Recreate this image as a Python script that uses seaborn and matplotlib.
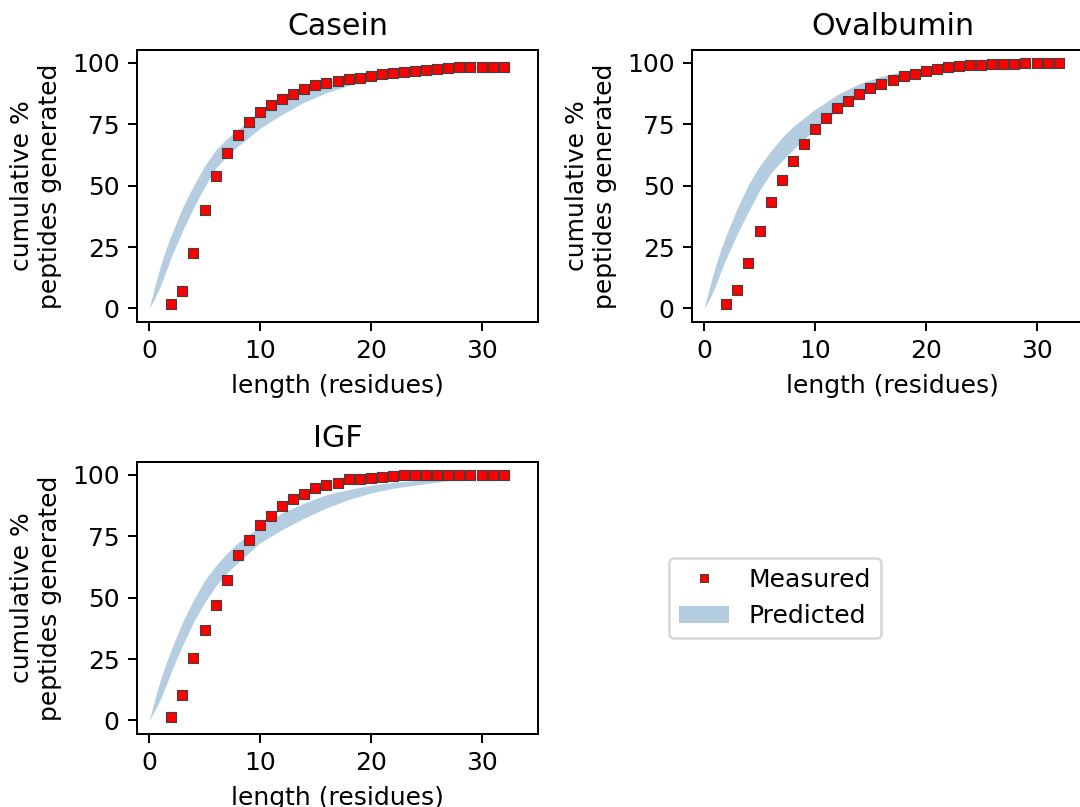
import numpy as np
import pandas as pd
import matplotlib
matplotlib.use("Agg")
import matplotlib.pyplot as plt
import seaborn as sns
from matplotlib.patches import Patch
from matplotlib.lines import Line2D

# ---- data ----
proteins = ["Casein", "Ovalbumin", "IGF"]
lengths = list(range(2, 33))

casein_measured = [1.8, 7.3, 22.7, 40.2, 54.1, 63.4, 70.8, 75.7, 79.9, 82.8, 85.3, 87.4,
                   89.3, 90.8, 91.7, 92.5, 93.4, 93.9, 94.7, 95.3, 95.9, 96.3, 96.7, 97.0,
                   97.6, 97.8, 98.2, 98.2, 98.2, 98.2, 98.2]
ovalbumin_measured = [2.0, 7.4, 18.4, 31.7, 43.2, 52.1, 59.9, 67.1, 72.9, 77.4, 81.7, 84.4,
                      87.3, 89.9, 91.5, 92.8, 94.6, 95.5, 96.5, 97.3, 98.4, 98.8, 98.9, 99.2,
                      99.3, 99.6, 99.7, 99.8, 100.0, 100.0, 100.0]
igf_measured = [1.5, 10.5, 25.4, 36.9, 47.2, 57.3, 67.2, 73.6, 79.5, 83.4, 87.2, 90.0,
                92.3, 94.5, 95.9, 96.8, 98.1, 98.4, 98.8, 99.2, 99.6, 99.9, 100.0, 100.0,
                100.0, 100.0, 100.0, 100.0, 100.0, 100.0, 100.0]

band_x = [0, 0.5, 1, 1.5, 2, 3, 4, 5, 6, 7, 8, 10, 12, 14, 16, 18, 20, 22, 25, 28, 32]
casein_upper = [0, 9, 17, 24, 30, 41, 50, 58, 64.5, 69, 72.8, 79.8, 85, 89, 92.3, 94.5, 96, 96.8, 97.6, 98.1, 98.5]
casein_lower = [0, 4, 9, 15, 21, 31.5, 41, 49.5, 57, 62, 66, 73.3, 79, 84, 87.8, 90.8, 93.3, 94.8, 96.3, 97.4, 98.2]
ovalbumin_upper = [0, 9, 17, 24, 30, 41, 50.5, 58, 64, 69.5, 74, 81, 87, 91.5, 94.5, 96.5, 97.7, 98.5, 99.3, 99.7, 99.9]
ovalbumin_lower = [0, 4, 9, 15, 20.5, 30.5, 39.5, 48, 55, 60, 64.5, 73, 80.5, 87, 91.3, 94, 96, 97.5, 98.8, 99.4, 99.8]
igf_upper = [0, 8.5, 16.5, 23, 29, 40, 49, 57, 63, 68, 72.3, 79, 84.5, 88.5, 91.9, 94, 95.7, 96.9, 98, 99, 99.7]
igf_lower = [0, 4, 8.5, 14, 20, 30.5, 40, 48, 54.7, 60, 64.2, 72.3, 77.7, 82.4, 86.5, 89.9, 92.6, 94.5, 96.4, 98.2, 99.5]

yticks = [0, 25, 50, 75, 100]
xticks = [0, 10, 20, 30]

measured = {"Casein": casein_measured, "Ovalbumin": ovalbumin_measured, "IGF": igf_measured}
bands = {"Casein": (casein_lower, casein_upper),
         "Ovalbumin": (ovalbumin_lower, ovalbumin_upper),
         "IGF": (igf_lower, igf_upper)}

# ---- figure ----
DPI = 180
fig = plt.figure(figsize=(1080 / DPI, 807 / DPI), dpi=DPI)
W, H = 1080, 807
boxes = {
    "Casein": [137 / W, 1 - 322 / H, 401 / W, 272 / H],
    "Ovalbumin": [692 / W, 1 - 322 / H, 401 / W, 272 / H],
    "IGF": [137 / W, 1 - 734 / H, 401 / W, 272 / H],
}

band_color = "steelblue"
for name in proteins:
    ax = fig.add_axes(boxes[name])
    lo, hi = bands[name]
    ax.fill_between(band_x, lo, hi, color=band_color, alpha=0.4, linewidth=0)
    df = pd.DataFrame({"length": lengths, "pct": measured[name]})
    sns.scatterplot(data=df, x="length", y="pct", ax=ax, marker="s", color="red",
                    edgecolor="0.25", linewidth=0.45, s=13, zorder=3)
    ax.set_xlim(-1.1, 35.1)
    ax.set_ylim(-5.5, 105.2)
    ax.set_xticks(xticks)
    ax.set_yticks(yticks)
    ax.set_title(name)
    ax.set_xlabel("length (residues)")
    ax.set_ylabel("cumulative %\npeptides generated")

handles = [
    Line2D([0], [0], marker="s", linestyle="none", markerfacecolor="red",
           markeredgecolor="0.25", markeredgewidth=0.4, markersize=3.3),
    Patch(facecolor=band_color, alpha=0.4, linewidth=0),
]
fig.legend(handles, ["Measured", "Predicted"], loc="center",
           bbox_to_anchor=(775 / W, 1 - 598 / H))

fig.savefig("out.png", dpi=DPI)
